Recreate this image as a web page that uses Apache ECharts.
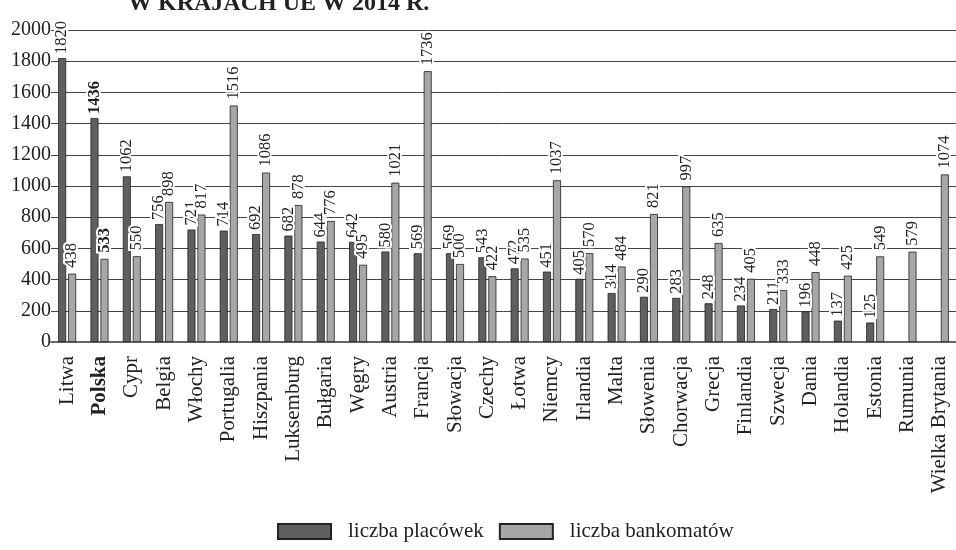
<!DOCTYPE html>
<html>
<head>
<meta charset="utf-8">
<script src="https://cdn.jsdelivr.net/npm/echarts@6/dist/echarts.min.js"></script>
<style>html,body{margin:0;padding:0;background:#fff}#c{width:956px;height:550px}</style>
</head>
<body>
<div id="c"></div>
<script>
var titleText = 'W KRAJACH UE W 2014 R.';
var categories = ['Litwa','Polska','Cypr','Belgia','Włochy','Portugalia','Hiszpania','Luksemburg','Bułgaria','Węgry','Austria','Francja','Słowacja','Czechy','Łotwa','Niemcy','Irlandia','Malta','Słowenia','Chorwacja','Grecja','Finlandia','Szwecja','Dania','Holandia','Estonia','Rumunia','Wielka Brytania'];
var placowki = [1820,1436,1062,756,721,714,692,682,644,642,580,569,569,543,472,451,405,314,290,283,248,234,211,196,137,125,null,null];
var bankomaty = [438,533,550,898,817,1516,1086,878,776,495,1021,1736,500,422,535,1037,570,484,821,997,635,405,333,448,425,549,579,1074];
var seriesNames = ['liczba placówek','liczba bankomatów'];
var yTicks = [0,200,400,600,800,1000,1200,1400,1600,1800,2000];
var highlight = 'Polska';

var serif = '"Liberation Serif","DejaVu Serif",serif';
function mkData(arr){
  return arr.map(function(v,i){
    if (categories[i] === highlight) return {value:v, label:{fontWeight:'bold'}};
    return v;
  });
}
function labelCfg(dx){
  return {
    show:true, position:'top', rotate:90, align:'left', verticalAlign:'middle',
    distance:4, offset:[dx,0], fontSize:16.5, fontFamily:serif, color:'#222',
    textBorderColor:'#fff', textBorderWidth:4
  };
}
var chart = echarts.init(document.getElementById('c'));
chart.setOption({
  animation:false,
  backgroundColor:'#fff',
  graphic:[{type:'text', left:128, top:-8, style:{text:titleText, font:'bold 24px '+serif, fill:'#222'}}],
  grid:{left:51, top:30, width:910, bottom:208},
  legend:{
    left:272, top:516, itemWidth:53, itemHeight:15, itemGap:15, icon:'rect',
    textStyle:{fontSize:21, fontFamily:serif, color:'#222', padding:[0,0,0,12]},
    data:seriesNames
  },
  xAxis:{
    type:'category',
    data:categories.map(function(c){ return c===highlight ? {value:c, textStyle:{fontWeight:'bold'}} : c; }),
    axisLine:{lineStyle:{color:'#666', width:2}},
    axisTick:{show:false},
    axisLabel:{rotate:90, margin:14, fontSize:21, fontFamily:serif, color:'#222', interval:0}
  },
  yAxis:{
    type:'value', min:yTicks[0], max:yTicks[yTicks.length-1], interval:200,
    axisLine:{show:false}, axisTick:{show:false},
    axisLabel:{margin:0, fontSize:20, fontFamily:serif, color:'#222', formatter:function(v){return String(v);}},
    splitLine:{lineStyle:{color:'#444', width:1}}
  },
  series:[
    {name:seriesNames[0], type:'bar', data:mkData(placowki), barWidth:8, barGap:'25%',
     itemStyle:{color:'#5f5f5f', borderColor:'#222', borderWidth:0.8}, label:labelCfg(0)},
    {name:seriesNames[1], type:'bar', data:mkData(bankomaty), barWidth:8,
     itemStyle:{color:'#a7a7a7', borderColor:'#222', borderWidth:0.8}, label:labelCfg(2)}
  ]
});
</script>
</body>
</html>
